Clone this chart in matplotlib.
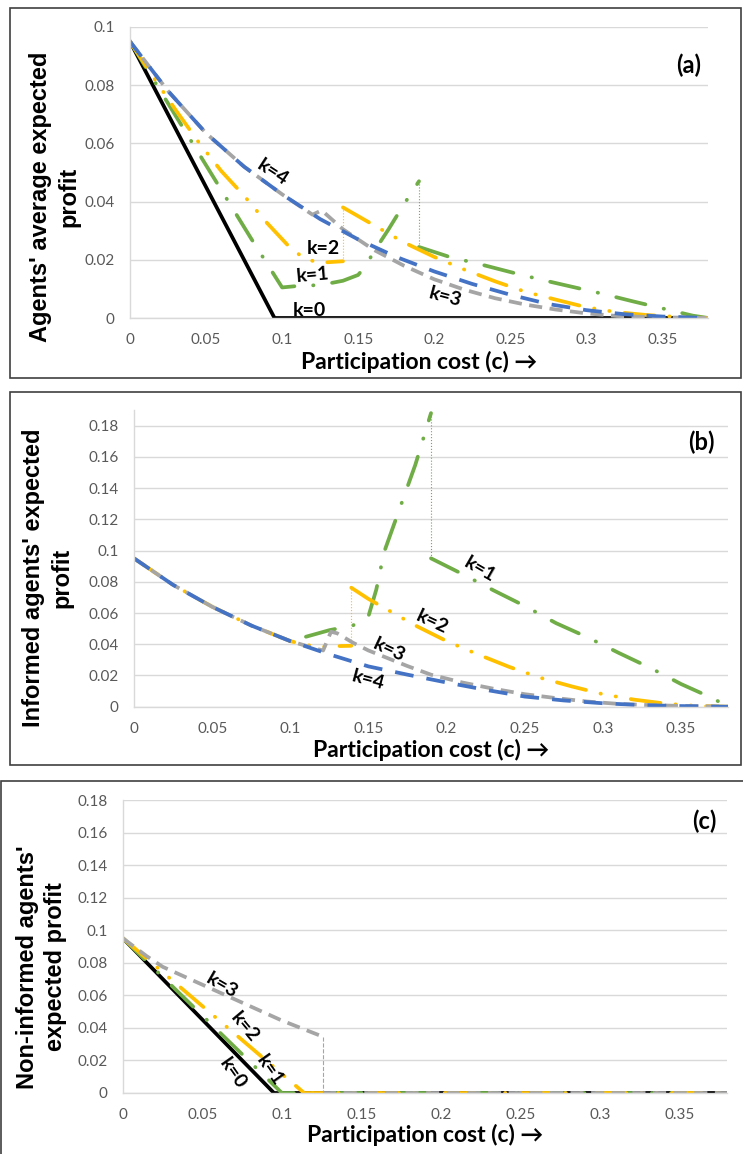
# plot.py
# Three stacked panels: expected profit vs participation cost for k = 0..4

import matplotlib.pyplot as plt
from matplotlib.patches import Rectangle

plt.rcParams['font.family'] = ['Lato', 'DejaVu Sans']

# --- Data ---
x_ticks = [0, 0.05, 0.1, 0.15, 0.2, 0.25, 0.3, 0.35]
x_tick_labels = ['0', '0.05', '0.1', '0.15', '0.2', '0.25', '0.3', '0.35']
a_yticks = [0, 0.02, 0.04, 0.06, 0.08, 0.1]
a_ytick_labels = ['0', '0.02', '0.04', '0.06', '0.08', '0.1']
bc_yticks = [0, 0.02, 0.04, 0.06, 0.08, 0.1, 0.12, 0.14, 0.16, 0.18]
bc_ytick_labels = ['0', '0.02', '0.04', '0.06', '0.08', '0.1', '0.12', '0.14', '0.16', '0.18']

# panel (a): agents' average expected profit
a_c0 = [0, 0.095, 0.38]
a_v0 = [0.095, 0, 0]
a_c1_pre = [0, 0.02, 0.04, 0.06, 0.08, 0.1, 0.11, 0.12, 0.13, 0.14, 0.15, 0.155, 0.16, 0.17, 0.18, 0.19]
a_v1_pre = [0.095, 0.078, 0.061, 0.044, 0.027, 0.0105, 0.011, 0.0112, 0.0118, 0.0128, 0.0148, 0.018, 0.0225, 0.0305, 0.039, 0.047]
a_c1_post = [0.19, 0.21, 0.23, 0.25, 0.27, 0.29, 0.31, 0.33, 0.35, 0.37, 0.38]
a_v1_post = [0.0244, 0.021, 0.0185, 0.0158, 0.0132, 0.0108, 0.0084, 0.0058, 0.0033, 0.0008, 0.0]
a_c2_pre = [0, 0.015, 0.03, 0.045, 0.06, 0.075, 0.09, 0.105, 0.115, 0.125, 0.14]
a_v2_pre = [0.095, 0.083, 0.0715, 0.0605, 0.0505, 0.042, 0.0327, 0.0243, 0.0203, 0.019, 0.0195]
a_c2_post = [0.14, 0.16, 0.18, 0.2, 0.22, 0.24, 0.26, 0.28, 0.3, 0.32, 0.34, 0.36, 0.38]
a_v2_post = [0.038, 0.032, 0.026, 0.021, 0.0166, 0.0126, 0.009, 0.0063, 0.0037, 0.002, 0.001, 0.0004, 0.0]
a_c3 = [0, 0.025, 0.05, 0.075, 0.1, 0.12, 0.126, 0.14, 0.16, 0.18, 0.2, 0.22, 0.24, 0.26, 0.28, 0.3, 0.32, 0.35, 0.38]
a_v3 = [0.095, 0.078, 0.0635, 0.052, 0.0425, 0.0355, 0.037, 0.0305, 0.0235, 0.018, 0.0133, 0.0097, 0.0068, 0.0046, 0.0029, 0.0016, 0.0007, 0.0002, 0.0]
a_c4 = [0, 0.025, 0.05, 0.075, 0.1, 0.125, 0.15, 0.175, 0.2, 0.225, 0.25, 0.275, 0.3, 0.325, 0.35, 0.38]
a_v4 = [0.095, 0.078, 0.0635, 0.052, 0.0425, 0.034, 0.027, 0.021, 0.016, 0.0117, 0.008, 0.0048, 0.0027, 0.0013, 0.0005, 0.0]

# panel (b): informed agents' expected profit
b_c1_pre = [0.11, 0.125, 0.14, 0.15, 0.155, 0.16, 0.17, 0.18, 0.19]
b_v1_pre = [0.0448, 0.049, 0.052, 0.058, 0.075, 0.099, 0.127, 0.155, 0.188]
b_c1_post = [0.19, 0.21, 0.23, 0.25, 0.27, 0.29, 0.31, 0.33, 0.35, 0.37, 0.38]
b_v1_post = [0.095, 0.085, 0.0745, 0.0645, 0.0535, 0.0445, 0.0345, 0.025, 0.0145, 0.0055, 0.0]
b_c2_pre = [0, 0.025, 0.05, 0.075, 0.1, 0.11, 0.12, 0.13, 0.139]
b_v2_pre = [0.095, 0.078, 0.064, 0.052, 0.042, 0.0395, 0.0385, 0.0388, 0.039]
b_c2_post = [0.139, 0.15, 0.165, 0.18, 0.2, 0.22, 0.24, 0.26, 0.28, 0.3, 0.32, 0.34, 0.36, 0.38]
b_v2_post = [0.0762, 0.069, 0.0605, 0.052, 0.042, 0.0335, 0.0255, 0.0185, 0.013, 0.008, 0.0045, 0.002, 0.0005, 0.0]
b_c3 = [0, 0.025, 0.05, 0.075, 0.1, 0.115, 0.121, 0.126, 0.13, 0.14, 0.15, 0.16, 0.175, 0.19, 0.21, 0.23, 0.25, 0.27, 0.29, 0.31, 0.33, 0.35, 0.38]
b_v3 = [0.095, 0.078, 0.064, 0.052, 0.042, 0.0375, 0.036, 0.048, 0.047, 0.041, 0.036, 0.032, 0.026, 0.0205, 0.0155, 0.0115, 0.008, 0.0055, 0.0033, 0.0018, 0.001, 0.0005, 0.0]
b_c4 = [0, 0.025, 0.05, 0.075, 0.1, 0.125, 0.15, 0.175, 0.2, 0.225, 0.25, 0.275, 0.3, 0.325, 0.35, 0.38]
b_v4 = [0.095, 0.078, 0.064, 0.052, 0.042, 0.0335, 0.0258, 0.0205, 0.0155, 0.0108, 0.0065, 0.004, 0.0022, 0.001, 0.0004, 0.0]

# panel (c): non-informed agents' expected profit
c_c0 = [0, 0.095, 0.38]
c_v0 = [0.095, 0, 0]
c_c1 = [0, 0.1, 0.38]
c_v1 = [0.095, 0, 0]
c_c2 = [0, 0.114, 0.38]
c_v2 = [0.095, 0, 0]
c_c3_pre = [0, 0.015, 0.025, 0.05, 0.075, 0.1, 0.126]
c_v3_pre = [0.095, 0.084, 0.0775, 0.0665, 0.0555, 0.0445, 0.0345]
c_c3_post = [0.126, 0.38]
c_v3_post = [0.0, 0.0]

# --- Line styles (Excel-like) ---
LW = 2.7
STYLE = {
    0: dict(color='black', lw=LW, ls='-'),
    1: dict(color='#70AD47', lw=LW, dashes=[8, 5, 0.1, 5], dash_capstyle='round'),
    2: dict(color='#FFC000', lw=LW, dashes=[8, 4, 0.1, 4, 0.1, 4], dash_capstyle='round'),
    3: dict(color='#A5A5A5', lw=LW, dashes=[3.5, 2]),
    4: dict(color='#4472C4', lw=LW, dashes=[5, 3.5]),
}


def draw(ax, k, c, v):
    ax.plot(c, v, **STYLE[k])


def draw_jump(ax, k, c_pre, v_pre, c_post, v_post, ls=':'):
    draw(ax, k, c_pre, v_pre)
    draw(ax, k, c_post, v_post)
    # thin connector at the discontinuity
    ax.plot([c_pre[-1], c_post[0]], [v_pre[-1], v_post[0]],
            color=STYLE[k]['color'], lw=0.8, ls=ls)


def setup_axes(ax, ylim, yticks, yticklabels, ylabel, ylab_xy, xlab_y, tag, tag_xy):
    ax.set_xlim(0, 0.38)
    ax.set_ylim(*ylim)
    ax.set_xticks(x_ticks)
    ax.set_xticklabels(x_tick_labels)
    ax.set_yticks(yticks)
    ax.set_yticklabels(yticklabels)
    ax.tick_params(length=0, labelsize=11, labelcolor='#595959', pad=11)
    ax.grid(axis='y', color='#D9D9D9', lw=1)
    ax.set_axisbelow(True)
    for s in ['top', 'right']:
        ax.spines[s].set_visible(False)
    for s in ['left', 'bottom']:
        ax.spines[s].set_color('#D9D9D9')
        ax.spines[s].set_linewidth(1)
    ax.set_xlabel('Participation cost (c) \u2192', fontsize=16.5, fontweight='bold', va='center')
    ax.xaxis.set_label_coords(0.5, xlab_y)
    ax.set_ylabel(ylabel, fontsize=17, fontweight='bold', va='center',
                  family=['Liberation Sans', 'DejaVu Sans'], linespacing=1.3)
    ax.yaxis.set_label_coords(*ylab_xy)
    ax.text(tag_xy[0], tag_xy[1], tag, fontsize=17, fontweight='bold', ha='center', va='center')


def k_label(ax, x, y, text, rot=0):
    ax.text(x, y, text, fontsize=14, fontweight='bold', ha='center', va='center',
            rotation=rot, rotation_mode='anchor')


W, H = 743, 1154
fig = plt.figure(figsize=(W / 100, H / 100), dpi=100)

# axes placed in pixel terms of the reference
ax_a = fig.add_axes([130 / W, 1 - 318 / H, 578 / W, 291 / H])
ax_b = fig.add_axes([134 / W, 1 - 706.7 / H, 594 / W, 296.7 / H])
ax_c = fig.add_axes([123 / W, 1 - 1093 / H, 604 / W, 293 / H])

# panel borders
for x0, y0, x1, y1 in [(10, 8, 741, 378), (10, 392, 741, 765), (1, 781, 748, 1160)]:
    fig.patches.append(Rectangle((x0 / W, 1 - y1 / H), (x1 - x0) / W, (y1 - y0) / H,
                                 transform=fig.transFigure, fill=False,
                                 edgecolor='#404040', lw=1.2))

# --- Panel (a) ---
draw(ax_a, 0, a_c0, a_v0)
draw_jump(ax_a, 1, a_c1_pre, a_v1_pre, a_c1_post, a_v1_post)
draw_jump(ax_a, 2, a_c2_pre, a_v2_pre, a_c2_post, a_v2_post)
draw(ax_a, 3, a_c3, a_v3)
draw(ax_a, 4, a_c4, a_v4)
setup_axes(ax_a, (0, 0.1), a_yticks, a_ytick_labels,
           "Agents' average expected\nprofit", (-0.1306, 0.4158), -0.151, '(a)', (0.367, 0.087))
k_label(ax_a, 0.094, 0.050, 'k=4', -33)
k_label(ax_a, 0.127, 0.024, 'k=2')
k_label(ax_a, 0.120, 0.0148, 'k=1', 5)
k_label(ax_a, 0.118, 0.0027, 'k=0')
k_label(ax_a, 0.207, 0.0072, 'k=3', -15)

# --- Panel (b) ---
draw_jump(ax_b, 1, b_c1_pre, b_v1_pre, b_c1_post, b_v1_post)
draw_jump(ax_b, 2, b_c2_pre, b_v2_pre, b_c2_post, b_v2_post)
draw(ax_b, 3, b_c3, b_v3)
draw(ax_b, 4, b_c4, b_v4)
setup_axes(ax_b, (0, 0.19), bc_yticks, bc_ytick_labels,
           "Informed agents' expected\nprofit", (-0.1456, 0.4338), -0.145, '(b)', (0.363, 0.169))
k_label(ax_b, 0.221, 0.0876, 'k=1', -30)
k_label(ax_b, 0.1905, 0.0545, 'k=2', -25)
k_label(ax_b, 0.163, 0.0363, 'k=3', -25)
k_label(ax_b, 0.150, 0.0171, 'k=4', -15)

# --- Panel (c) ---
draw(ax_c, 0, c_c0, c_v0)
draw(ax_c, 1, c_c1, c_v1)
draw(ax_c, 2, c_c2, c_v2)
draw_jump(ax_c, 3, c_c3_pre, c_v3_pre, c_c3_post, c_v3_post, ls='--')
setup_axes(ax_c, (0, 0.18), bc_yticks, bc_ytick_labels,
           "Non-informed agents'\nexpected profit", (-0.1349, 0.43), -0.143, '(c)', (0.366, 0.1667))
k_label(ax_c, 0.0621, 0.0663, 'k=3', -30)
k_label(ax_c, 0.0768, 0.0407, 'k=2', -50)
k_label(ax_c, 0.0925, 0.0141, 'k=1', -55)
k_label(ax_c, 0.069, 0.0121, 'k=0', -55)

fig.savefig('out.png', dpi=100)
